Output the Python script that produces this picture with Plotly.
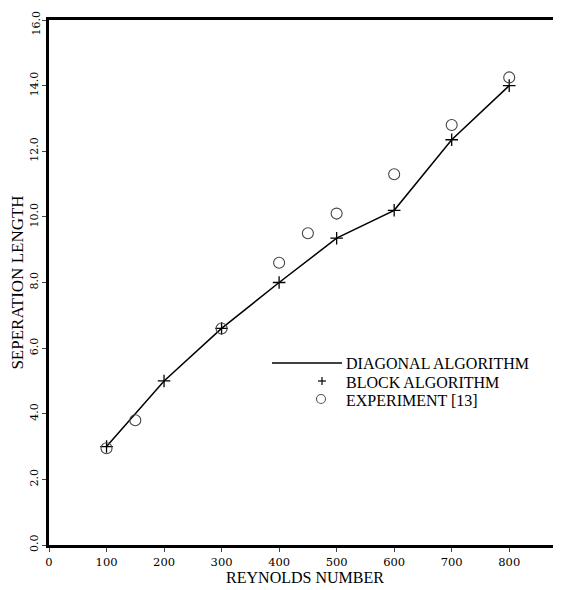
import plotly.graph_objects as go

reynolds_calc = [100, 200, 300, 400, 500, 600, 700, 800]
length_calc = [3.0, 5.0, 6.6, 8.0, 9.35, 10.2, 12.35, 14.0]
reynolds_exp = [100, 150, 300, 400, 450, 500, 600, 700, 800]
length_exp = [2.95, 3.8, 6.6, 8.6, 9.5, 10.1, 11.3, 12.8, 14.25]
x_ticks = [0, 100, 200, 300, 400, 500, 600, 700, 800]
y_ticks = [0, 2, 4, 6, 8, 10, 12, 14, 16]
y_tick_labels = ["0.0", "2.0", "4.0", "6.0", "8.0", "10.0", "12.0", "14.0", "16.0"]

FONT = "Liberation Serif"
TICKFONT = "DejaVu Serif"

fig = go.Figure()
fig.add_trace(go.Scatter(x=reynolds_calc, y=length_calc, mode="lines",
                         line=dict(color="black", width=1.5), name="DIAGONAL ALGORITHM",
                         showlegend=False))
fig.add_trace(go.Scatter(x=reynolds_calc, y=length_calc, mode="markers",
                         marker=dict(symbol="cross-thin", size=9, line=dict(color="black", width=1.3)),
                         name="BLOCK ALGORITHM", showlegend=False))
fig.add_trace(go.Scatter(x=reynolds_exp, y=length_exp, mode="markers",
                         marker=dict(symbol="circle-open", size=11, color="#444", line=dict(width=1.1)),
                         name="EXPERIMENT [13]", showlegend=False))

# page body has an 8px margin; figure coordinates are offset accordingly
OFF = 8
L, R, T, B = 49 - OFF, 561 - OFF, 20 - OFF, 545 - OFF
W, H = 561 - OFF, 590 - OFF

def px(x):
    return (x - OFF - L) / (R - L)
def py(y):
    return (B - (y - OFF)) / (B - T)

# legend sample line
fig.add_shape(type="line", xref="paper", yref="paper",
              x0=px(272), x1=px(342), y0=py(363), y1=py(363),
              line=dict(color="black", width=1.3))
# legend sample "+"
for (dx0, dx1, dy0, dy1) in [(-4, 4, 0, 0), (0, 0, -4, 4)]:
    fig.add_shape(type="line", xref="paper", yref="paper",
                  xsizemode="pixel", ysizemode="pixel",
                  xanchor=px(322), yanchor=py(381),
                  x0=dx0, x1=dx1, y0=dy0, y1=dy1,
                  line=dict(color="black", width=1.2))
# legend sample circle
fig.add_shape(type="circle", xref="paper", yref="paper",
              xsizemode="pixel", ysizemode="pixel",
              xanchor=px(321), yanchor=py(399),
              x0=-4.5, x1=4.5, y0=-4.5, y1=4.5,
              line=dict(color="#555", width=1.1))

legend_items = [("DIAGONAL ALGORITHM", 364), ("BLOCK ALGORITHM", 382), ("EXPERIMENT [13]", 400)]
for txt, yy in legend_items:
    fig.add_annotation(xref="paper", yref="paper", x=px(344), y=py(yy), text=txt,
                       showarrow=False, xanchor="left", yanchor="middle",
                       font=dict(family=FONT, size=16, color="black"))

# top y tick label sits just below the page edge (as in the reference it hugs the top)
shown_ticktext = y_tick_labels[:-1] + [""]
fig.add_annotation(xref="paper", yref="paper", x=px(36), y=py(9), text=y_tick_labels[-1],
                   showarrow=False, xanchor="center", yanchor="top", textangle=-90,
                   font=dict(family=TICKFONT, size=11, color="black"))

fig.update_layout(
    width=W, height=H,
    margin=dict(l=L, r=W - R, t=T, b=H - B, autoexpand=False),
    paper_bgcolor="white", plot_bgcolor="white",
    font=dict(family=FONT, color="black"),
    xaxis=dict(range=[0, 890], tickvals=x_ticks, ticks="outside", ticklen=4, tickwidth=1,
               showline=True, linewidth=3, linecolor="black", mirror=True,
               showgrid=False, zeroline=False, automargin=False,
               ticklabeloverflow="allow",
               tickfont=dict(family=TICKFONT, size=11.5, color="black"),
               title=dict(text="REYNOLDS NUMBER", font=dict(family=FONT, size=16), standoff=0)),
    yaxis=dict(range=[0, 16], tickvals=y_ticks, ticktext=shown_ticktext, ticks="outside",
               ticklen=4, tickwidth=1, tickangle=-90,
               showline=True, linewidth=3, linecolor="black",
               showgrid=False, zeroline=False, automargin=False,
               ticklabeloverflow="allow",
               tickfont=dict(family=TICKFONT, size=11, color="black"),
               title=dict(text="SEPERATION LENGTH", font=dict(family=FONT, size=17), standoff=0)),
)

fig.write_html("out.html")
